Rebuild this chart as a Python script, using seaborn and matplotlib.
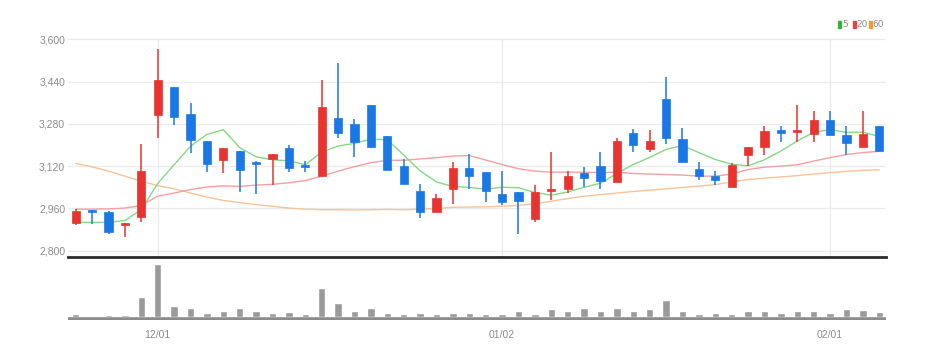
import numpy as np
import pandas as pd
import matplotlib
matplotlib.use("Agg")
import matplotlib.pyplot as plt
from matplotlib.patches import Rectangle
import seaborn as sns

# ---------------- data ----------------
opens = [2903, 2952, 2945, 2898, 2928, 3312, 3421, 3318, 3214, 3144,
         3176, 3134, 3145, 3189, 3123, 3083, 3303, 3279, 3351, 3232,
         3119, 3025, 2947, 3032, 3111, 3097, 3013, 3022, 2921, 3024,
         3034, 3093, 3121, 3058, 3245, 3186, 3375, 3223, 3109, 3081,
         3040, 3161, 3194, 3255, 3248, 3242, 3294, 3238, 3194, 3270]
highs = [2959, 2955, 2950, 2903, 3205, 3562, 3421, 3359, 3214, 3190,
         3176, 3138, 3164, 3199, 3140, 3446, 3509, 3298, 3351, 3235,
         3147, 3053, 3015, 3137, 3166, 3097, 3101, 3022, 3050, 3173,
         3101, 3118, 3173, 3228, 3261, 3258, 3457, 3266, 3135, 3101,
         3133, 3192, 3270, 3272, 3351, 3328, 3328, 3270, 3328, 3270]
lows = [2898, 2902, 2862, 2853, 2910, 3225, 3276, 3171, 3097, 3092,
        3021, 3015, 3048, 3097, 3097, 3083, 3227, 3154, 3190, 3106,
        3054, 2922, 2947, 2977, 3032, 2985, 2974, 2864, 2908, 2990,
        3018, 3040, 3034, 3058, 3173, 3173, 3204, 3137, 3069, 3050,
        3040, 3120, 3161, 3213, 3213, 3213, 3239, 3162, 3194, 3176]
closes = [2951, 2946, 2872, 2903, 3101, 3446, 3305, 3219, 3129, 3190,
          3107, 3128, 3164, 3112, 3116, 3344, 3245, 3211, 3194, 3106,
          3054, 2946, 2999, 3112, 3083, 3024, 2984, 2989, 3022, 3032,
          3082, 3074, 3063, 3214, 3198, 3215, 3225, 3137, 3081, 3067,
          3126, 3192, 3253, 3247, 3255, 3295, 3239, 3206, 3243, 3176]
ma5 = [2907, 2907, 2907, 2914, 2955, 3054, 3125, 3195, 3240, 3258,
       3190, 3155, 3144, 3140, 3125, 3173, 3196, 3206, 3222, 3220,
       3162, 3102, 3060, 3043, 3039, 3033, 3040, 3038, 3020, 3010,
       3022, 3040, 3055, 3093, 3126, 3153, 3183, 3198, 3171, 3145,
       3127, 3121, 3144, 3177, 3215, 3248, 3258, 3248, 3248, 3232]
ma20 = [2957, 2957, 2958, 2961, 2971, 3006, 3018, 3031, 3041, 3045,
        3043, 3048, 3051, 3057, 3065, 3082, 3101, 3118, 3133, 3142,
        3142, 3147, 3152, 3158, 3160, 3143, 3126, 3110, 3101, 3097,
        3097, 3097, 3095, 3097, 3092, 3090, 3088, 3086, 3082, 3082,
        3090, 3107, 3116, 3120, 3125, 3139, 3152, 3164, 3171, 3176]
ma60 = [3130, 3117, 3101, 3082, 3063, 3046, 3034, 3018, 3003, 2990,
        2982, 2974, 2968, 2961, 2957, 2955, 2955, 2954, 2955, 2956,
        2955, 2957, 2960, 2964, 2965, 2966, 2968, 2971, 2978, 2987,
        2997, 3006, 3012, 3018, 3024, 3029, 3034, 3039, 3044, 3050,
        3060, 3069, 3074, 3079, 3084, 3090, 3095, 3100, 3104, 3106]
volume_k = [8, 3, 6, 7, 60, 160, 33, 28, 13, 17,
            27, 19, 12, 16, 8, 87, 43, 19, 28, 13,
            8, 13, 8, 13, 13, 9, 10, 19, 8, 23,
            17, 28, 17, 28, 19, 23, 52, 19, 10, 13,
            8, 17, 19, 13, 19, 17, 13, 23, 22, 14]
tick_pos = [5, 26, 46]
tick_labels = ["12/01", "01/02", "02/01"]
y_ticks = [2800, 2960, 3120, 3280, 3440, 3600]
legend_labels = ["5", "20", "60"]

# ---------------- styling ----------------
sns.set_theme(style="white")
plt.rcParams['font.family'] = ['Liberation Sans Narrow', 'Liberation Sans', 'DejaVu Sans']

UP = "#e8332f"
DOWN = "#1a78e6"
C5 = "#86d886"
C20 = "#f3a0a0"
C60 = "#f7c39a"

idx = np.arange(len(opens))
df = pd.DataFrame({"i": idx, "open": opens, "high": highs, "low": lows,
                   "close": closes, "ma5": ma5, "ma20": ma20, "ma60": ma60,
                   "vol": volume_k})

W, H = 933, 357
fig = plt.figure(figsize=(W / 100, H / 100), dpi=100)
left = 68 / W
width = (886 - 68) / W
ax = fig.add_axes([left, 1 - 257 / H, width, (257 - 30) / H])
axv = fig.add_axes([left, 1 - 320 / H, width, (320 - 261) / H])

xlim = (-0.47, 49.41)

# grid
for y in y_ticks:
    ax.axhline(y, color="#ebebeb", lw=0.9, zorder=0)
for x in tick_pos:
    ax.axvline(x, ymin=0, ymax=0.96, color="#ececec", lw=0.9, zorder=0)

# moving averages
sns.lineplot(data=df, x="i", y="ma60", ax=ax, color=C60, lw=1.0, zorder=2)
sns.lineplot(data=df, x="i", y="ma20", ax=ax, color=C20, lw=1.0, zorder=2)
sns.lineplot(data=df, x="i", y="ma5", ax=ax, color=C5, lw=1.0, zorder=2)

# candles
up = df["close"] >= df["open"]
colors = np.where(up, UP, DOWN)
ax.vlines(df["i"], df["low"], df["high"], colors=colors, lw=1.1, zorder=3)
body_bottom = np.minimum(df["open"], df["close"])
body_h = np.maximum(np.abs(df["close"] - df["open"]), 6)
ax.bar(df["i"], body_h, bottom=body_bottom, width=0.5, color=colors,
       edgecolor=colors, linewidth=0.5, zorder=4)

ax.set_xlim(*xlim)
ax.set_ylim(2776, 3635)
ax.set_yticks(y_ticks)
ax.set_yticklabels([f"{v:,}" for v in y_ticks])
ax.tick_params(axis="y", length=0, pad=2, labelsize=7.5, labelcolor="#8a8a8a")
ax.set_xticks([])
ax.set_xlabel("")
ax.set_ylabel("")
for s in ["top", "right", "left"]:
    ax.spines[s].set_visible(False)
ax.spines["bottom"].set_color("#2b2b2b")
ax.spines["bottom"].set_linewidth(2)

# volume
sns.barplot(data=df, x="i", y="vol", ax=axv, color="#9a9a9a", width=0.45,
            saturation=1, native_scale=True, zorder=2)
axv.axhline(-4.5, color="#8c8c8c", lw=2.6, zorder=3)
axv.set_xlim(*xlim)
axv.set_ylim(-9, 170)
axv.set_yticks([])
axv.set_xticks(tick_pos)
axv.set_xticklabels(tick_labels)
axv.tick_params(axis="x", length=4, width=1, color="#555555", pad=3,
                labelsize=7.5, labelcolor="#8a8a8a")
axv.set_xlabel("")
axv.set_ylabel("")
for s in axv.spines.values():
    s.set_visible(False)

# legend (top right)
fam = ['Liberation Sans Narrow', 'DejaVu Sans']
items = [("#33b533", 838.0, 842.0), ("#e8403c", 852.5, 856.5), ("#f09a30", 868.5, 872.5)]
for lab, (col, sx, tx) in zip(legend_labels, items):
    fig.patches.append(Rectangle((sx / W, 1 - 27.5 / H), 3 / W, 6 / H,
                                 transform=fig.transFigure, color=col))
    fig.text(tx / W, 1 - 24.5 / H, lab, color="#8a8a8a", fontsize=6.5,
             va="center", ha="left", family=fam)

fig.savefig("out.png", dpi=100, facecolor="white")
